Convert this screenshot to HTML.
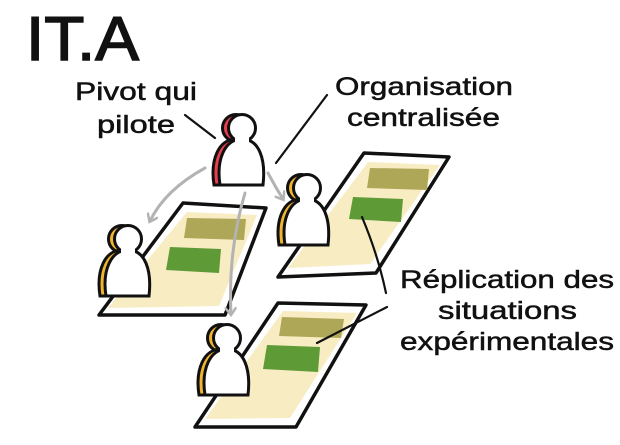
<!DOCTYPE html>
<html><head><meta charset="utf-8"><style>
html,body{margin:0;padding:0;background:#fff;}
svg{display:block}
text{font-family:"Liberation Sans",sans-serif;fill:#111;stroke:#111;stroke-width:0.5;}
</style></head><body>
<svg width="620" height="445" viewBox="0 0 620 445" xmlns="http://www.w3.org/2000/svg">
<defs>
  <g id="pb">
    <circle cx="27" cy="15" r="13.5"/>
    <path d="M5,72 C1,46 10,26 27,26 C44,26 51,46 48,72 Z"/>
  </g>
  <g id="pw">
    <path d="M5,72 C1,46 10,26 27,26 C44,26 51,46 48,72 Z"/>
    <circle cx="27" cy="15" r="13.5"/>
    <circle cx="27" cy="15" r="11.5" stroke="none"/>
    <rect x="20" y="24" width="14" height="8" stroke="none"/>
  </g>
  <marker id="ah" markerWidth="12" markerHeight="12" refX="7" refY="6" orient="auto" markerUnits="userSpaceOnUse">
    <path d="M0,0 L8,6 L0,12" fill="none" stroke="#b3b3b3" stroke-width="2.5"/>
  </marker>
</defs>

<text x="26" y="60" font-size="62" textLength="113" lengthAdjust="spacingAndGlyphs" style="stroke-width:1.5">IT.A</text>

<text x="75" y="100" font-size="25" textLength="122" lengthAdjust="spacingAndGlyphs">Pivot qui</text>
<text x="97" y="133" font-size="25" textLength="78" lengthAdjust="spacingAndGlyphs">pilote</text>
<text x="335" y="95" font-size="25" textLength="178" lengthAdjust="spacingAndGlyphs">Organisation</text>
<text x="347" y="126" font-size="25" textLength="153" lengthAdjust="spacingAndGlyphs">centralisée</text>
<text x="400" y="288" font-size="25" textLength="214" lengthAdjust="spacingAndGlyphs">Réplication des</text>
<text x="438" y="319" font-size="25" textLength="139" lengthAdjust="spacingAndGlyphs">situations</text>
<text x="400" y="350" font-size="25" textLength="214" lengthAdjust="spacingAndGlyphs">expérimentales</text>

<g stroke="#111" stroke-width="2.2" fill="none" stroke-linecap="round">
  <line x1="185" y1="115" x2="215" y2="138"/>
  <line x1="327" y1="95" x2="276" y2="163"/>
</g>

<g stroke="#111" stroke-width="3.5" stroke-linejoin="round">
  <polygon points="183,203 266,208 225,315 99,315" fill="#fff"/>
  <polygon points="364,153 449,157 376,273 278,277" fill="#fff"/>
  <polygon points="278,303 366,305 296,427 195,427" fill="#fff"/>
</g>
<g fill="#f8ecc3">
  <polygon points="187,212 257,215 219,306 108,308"/>
  <polygon points="368,162 440,165 370,264 288,268"/>
  <polygon points="283,311 357,313 290,418 205,419"/>
</g>
<g>
  <polygon points="187,218 246,219 244,240 184,238" fill="#aea758"/>
  <polygon points="170,247 221,249 219,273 166,270" fill="#5e9a35"/>
  <polygon points="370,168 429,169 427,190 367,188" fill="#aea758"/>
  <polygon points="353,197 403,199 401,222 349,219" fill="#5e9a35"/>
  <polygon points="282,317 344,319 341,338 279,336" fill="#aea758"/>
  <polygon points="267,345 320,347 318,372 263,369" fill="#5e9a35"/>
</g>

<g stroke="#111" stroke-width="2.2" fill="none" stroke-linecap="round">
  <path d="M362,217 Q378,255 386,293"/>
  <line x1="387" y1="307" x2="317" y2="343"/>
</g>

<g stroke="#b3b3b3" stroke-width="3" fill="none" stroke-linecap="round">
  <path d="M205,168 Q165,190 150,221" marker-end="url(#ah)"/>
  <path d="M268,173 Q276,188 283,199" marker-end="url(#ah)"/>
  <path d="M245,193 Q228,250 231,314" marker-end="url(#ah)"/>
</g>

<g>
  <use href="#pb" transform="translate(209,113)" fill="#e8404e" stroke="#111" stroke-width="3"/>
  <use href="#pw" transform="translate(215,113)" fill="#fff" stroke="#111" stroke-width="3"/>
  <use href="#pb" transform="translate(274,173)" fill="#f0b530" stroke="#111" stroke-width="3"/>
  <use href="#pw" transform="translate(280,173)" fill="#fff" stroke="#111" stroke-width="3"/>
  <use href="#pb" transform="translate(95,224)" fill="#f0b530" stroke="#111" stroke-width="3"/>
  <use href="#pw" transform="translate(101,224)" fill="#fff" stroke="#111" stroke-width="3"/>
  <use href="#pb" transform="translate(194,323)" fill="#f0b530" stroke="#111" stroke-width="3"/>
  <use href="#pw" transform="translate(200,323)" fill="#fff" stroke="#111" stroke-width="3"/>
</g>
</svg>
</body></html>
